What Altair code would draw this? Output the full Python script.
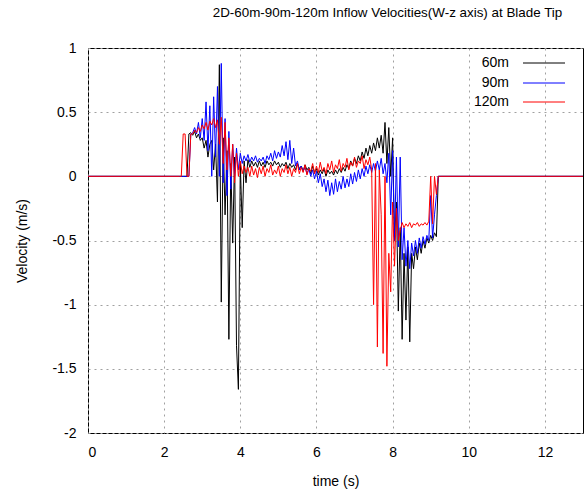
import altair as alt
import numpy as np
import pandas as pd

# sample times of the active part (s)
t_active = np.round(2.40 + 0.05 * np.arange(138), 2)

v60 = [0, 0, 0, 0, 0, 0.33, 0.34, 0.32, 0.35, 0.30,
       0.33, 0.28, 0.30, 0.22, 0.28, 0.15, 0.25, 0.28, 0.05, 0.25,
       -0.20, 0.87, -0.98, 0.30, -0.30, 0.20, -1.27, 0.10, -0.52, 0.15,
       -1.32, -1.66, 0.10, -0.40, 0.12, -0.05, 0.13, 0.07, 0.12, 0.08,
       0.11, 0.07, 0.12, 0.08, 0.11, 0.07, 0.12, 0.09, 0.11, 0.08,
       0.12, 0.09, 0.11, 0.07, 0.10, 0.08, 0.11, 0.06, 0.10, 0.07,
       0.09, 0.05, 0.10, 0.06, 0.08, 0.04, 0.09, 0.05, 0.07, 0.02,
       0.08, 0.03, 0.06, 0.01, 0.05, 0.02, 0.06, 0.00, 0.05, 0.02,
       0.04, 0.01, 0.05, 0.02, 0.06, 0.03, 0.07, 0.04, 0.09, 0.06,
       0.12, 0.08, 0.14, 0.10, 0.16, 0.12, 0.19, 0.14, 0.22, 0.16,
       0.24, 0.18, 0.26, 0.20, 0.30, 0.22, 0.32, 0.18, 0.42, 0.10,
       0.38, 0.00, 0.30, -0.50, -0.20, -1.05, -0.40, -1.27, -0.60, -1.12,
       -0.55, -1.29, -0.60, -0.72, -0.55, -0.65, -0.52, -0.60, -0.50, -0.56,
       -0.48, -0.52, -0.46, -0.50, -0.44, -0.47, 0, 0]

v90 = [0, 0, 0, 0, 0, 0, 0.33, 0.34, 0.38, 0.33,
       0.42, 0.30, 0.45, 0.28, 0.58, 0.20, 0.55, 0.00, 0.62, 0.15,
       0.70, 0.00, 0.88, -0.05, 0.45, -0.15, 0.35, -0.10, 0.25, 0.00,
       0.22, 0.05, 0.18, 0.10, 0.16, 0.12, 0.17, 0.11, 0.15, 0.12,
       0.16, 0.11, 0.14, 0.12, 0.15, 0.10, 0.16, 0.13, 0.18, 0.12,
       0.20, 0.14, 0.19, 0.15, 0.24, 0.16, 0.27, 0.13, 0.28, 0.10,
       0.22, 0.08, 0.12, 0.05, 0.08, 0.04, 0.07, 0.02, 0.06, 0.00,
       0.05, -0.02, 0.04, -0.05, 0.02, -0.08, -0.02, -0.12, -0.03, -0.15,
       -0.05, -0.14, -0.02, -0.12, -0.04, -0.10, 0.00, -0.09, -0.02, -0.08,
       0.02, -0.06, 0.03, -0.04, 0.05, -0.02, 0.06, 0.00, 0.08, 0.02,
       0.09, 0.03, 0.10, 0.04, 0.12, 0.05, 0.14, 0.02, 0.10, -0.05,
       0.18, -0.30, 0.20, -0.50, 0.15, -0.55, 0.15, -0.65, -0.40, -0.70,
       -0.50, -0.72, -0.52, -0.62, -0.50, -0.60, -0.48, -0.56, -0.47, -0.53,
       -0.46, -0.50, -0.15, -0.48, -0.30, -0.15, 0, 0]

v120 = [0, 0, 0.33, 0.33, 0, 0, 0.33, 0.33, 0.36, 0.34,
        0.38, 0.35, 0.40, 0.37, 0.42, 0.36, 0.43, 0.40, 0.45, 0.38,
        0.44, 0.25, 0.46, 0.10, 0.42, 0.05, 0.30, 0.00, 0.25, -0.05,
        0.18, 0.00, 0.12, 0.02, 0.08, 0.03, 0.07, 0.00, 0.08, 0.01,
        0.06, -0.01, 0.07, 0.02, 0.08, 0.00, 0.06, 0.03, 0.09, 0.01,
        0.05, 0.02, 0.08, 0.00, 0.06, 0.03, 0.09, 0.02, 0.07, 0.00,
        0.06, 0.03, 0.10, 0.02, 0.07, 0.03, 0.09, 0.01, 0.06, 0.04,
        0.10, 0.02, 0.08, 0.03, 0.11, 0.04, 0.07, 0.02, 0.10, 0.05,
        0.12, 0.03, 0.09, 0.06, 0.13, 0.04, 0.10, 0.07, 0.14, 0.05,
        0.11, 0.08, 0.15, 0.07, 0.12, 0.10, 0.16, 0.06, 0.13, 0.09,
        0.15, 0.05, -1.00, 0.10, -1.33, 0.05, -0.30, -1.38, 0.00, -1.48,
        -0.60, -0.90, -0.20, -0.70, -0.25, -0.50, -0.42, -0.36, -0.40, -0.37,
        -0.39, -0.36, -0.40, -0.37, -0.38, -0.36, -0.39, -0.37, -0.38, -0.36,
        -0.38, -0.35, 0.00, -0.37, 0.00, -0.14, 0.00, 0.00]

series_names = ["60m", "90m", "120m"]
series_colors = ["#000000", "#0000ff", "#ff0000"]
series_values = [v60, v90, v120]

x_ticks = [0, 2, 4, 6, 8, 10, 12]
y_ticks = [-2, -1.5, -1, -0.5, 0, 0.5, 1]

rows = []
for name, vals in zip(series_names, series_values):
    rows.append({"t": 0.0, "v": 0.0, "s": name})
    for t, v in zip(t_active, vals):
        rows.append({"t": float(t), "v": float(v), "s": name})
    rows.append({"t": 13.0, "v": 0.0, "s": name})
df = pd.DataFrame(rows)

FONT = "Liberation Sans"

x_enc = alt.X("t:Q", scale=alt.Scale(domain=[0, 13], nice=False, zero=False),
              axis=alt.Axis(values=x_ticks, title="time (s)", grid=True,
                            labelExpr="toString(datum.value)"))
y_enc = alt.Y("v:Q", scale=alt.Scale(domain=[-2, 1], nice=False, zero=False),
              axis=alt.Axis(values=y_ticks, title="Velocity (m/s)", grid=True,
                            labelExpr="toString(datum.value)"))

layers = []
for name, col in zip(series_names, series_colors):
    layers.append(
        alt.Chart(df).transform_filter(alt.datum.s == name)
        .mark_line(color=col, strokeWidth=1, clip=True)
        .encode(x=x_enc, y=y_enc, order="t:Q")
    )

# legend (labels left, line samples right, as in the reference)
leg_y = [15, 35, 54]
for name, col, yy in zip(series_names, series_colors, leg_y):
    layers.append(
        alt.Chart(pd.DataFrame({"s": [name]})).mark_text(
            align="right", baseline="middle", font=FONT, fontSize=14, color="#000000"
        ).encode(x=alt.value(421), y=alt.value(yy), text="s:N")
    )
    layers.append(
        alt.Chart(pd.DataFrame({"s": [name]})).mark_rule(color=col, strokeWidth=1)
        .encode(x=alt.value(435), x2=alt.value(477), y=alt.value(yy))
    )

chart = alt.layer(*layers).properties(
    width=495, height=385,
    title=alt.Title("2D-60m-90m-120m Inflow Velocities(W-z axis) at Blade Tip",
                    font=FONT, fontSize=13.4, fontWeight="normal", color="#000000",
                    anchor="middle", offset=22, dx=52),
    autosize=alt.AutoSizeParams(type="none"),
    padding={"left": 88, "top": 48, "right": 3, "bottom": 60},
    background="white",
).configure_view(
    stroke="#000000", strokeWidth=1
).configure_axis(
    domain=False, ticks=False,
    gridColor="#a0a0a0", gridDash=[2, 4], gridWidth=1,
    labelFont=FONT, labelFontSize=14, labelColor="#000000",
    titleFont=FONT, titleFontSize=14, titleFontWeight="normal", titleColor="#000000",
).configure_axisX(
    labelPadding=12, titlePadding=15
).configure_axisY(
    labelPadding=12, titlePadding=22
)

chart.save("out.html", embed_options={"renderer": "svg", "actions": False})
